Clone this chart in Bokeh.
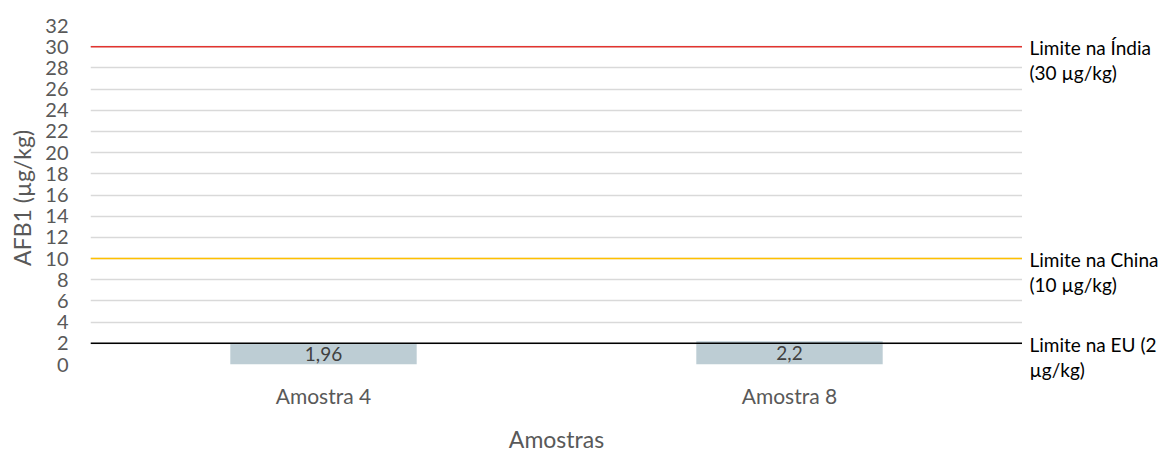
from bokeh.plotting import figure
from bokeh.layouts import row
from bokeh.models import ColumnDataSource, FixedTicker, Span, Range1d
from bokeh.core.properties import value
from bokeh.embed import file_html
from bokeh.resources import INLINE

# Data
samples = ["Amostra 4", "Amostra 8"]
afb1 = [1.96, 2.2]
afb1_text = ["1,96", "2,2"]
limit_values = [30, 10, 2]
limit_colors = ["#E2342F", "#FFC000", "#000000"]
limit_line1 = ["Limite na Índia", "Limite na China", "Limite na EU (2"]
limit_line2 = ["(30 µg/kg)", "(10 µg/kg)", "µg/kg)"]
y_ticks = list(range(0, 33, 2))

FONT = "Lato"
GREY = "#595959"
Y_MAX = 32
TOP, BOTTOM = 25, 91
HEIGHT = 455
FRAME_H = HEIGHT - TOP - BOTTOM

p = figure(
    x_range=samples,
    y_range=Range1d(0, Y_MAX),
    width=1022,
    height=HEIGHT,
    output_backend="svg",
    toolbar_location=None,
    min_border_left=90,
    min_border_right=0,
    min_border_top=TOP,
    min_border_bottom=BOTTOM,
)
p.outline_line_color = None

src = ColumnDataSource(dict(x=samples, top=afb1, mid=[v / 2 for v in afb1], txt=afb1_text))
p.vbar(x="x", top="top", width=0.4, source=src, fill_color="#BDCDD4", line_color=None)

# Reference limits
for v, c in zip(limit_values, limit_colors):
    p.add_layout(Span(location=v, dimension="width", line_color=c, line_width=1.5, level="overlay"))

p.text(x="x", y="mid", text="txt", source=src, text_align="center", text_baseline="middle",
       text_font=value(FONT), text_font_size="19px", text_color="#404040")

# Axes
for ax in (p.xaxis, p.yaxis):
    ax.axis_line_color = None
    ax.major_tick_line_color = None
    ax.minor_tick_line_color = None
    ax.major_tick_out = 0
    ax.major_tick_in = 0
    ax.minor_tick_out = 0
    ax.minor_tick_in = 0
    ax.major_label_text_font = FONT
    ax.major_label_text_color = GREY
    ax.axis_label_text_font = FONT
    ax.axis_label_text_font_style = "normal"
    ax.axis_label_text_color = GREY

p.yaxis.ticker = FixedTicker(ticks=y_ticks)
p.yaxis.major_label_text_font_size = "20px"
p.yaxis.major_label_standoff = 22
p.yaxis.axis_label = "AFB1  (µg/kg)"
p.yaxis.axis_label_text_font_size = "23px"
p.yaxis.axis_label_standoff = 6

p.xaxis.major_label_text_font_size = "21px"
p.xaxis.major_label_standoff = 18
p.xaxis.axis_label = "Amostras"
p.xaxis.axis_label_text_font_size = "23px"
p.xaxis.axis_label_standoff = 14

p.xgrid.grid_line_color = None
p.ygrid.grid_line_color = "#D9D9D9"
p.ygrid.grid_line_width = 1.5

# Side panel holding the limit annotations; its y scale matches the main frame
units_per_px = Y_MAX / FRAME_H
side = figure(
    width=143,
    height=HEIGHT,
    output_backend="svg",
    toolbar_location=None,
    x_range=Range1d(0, 143),
    y_range=Range1d(-BOTTOM * units_per_px, Y_MAX + TOP * units_per_px),
    x_axis_type=None,
    y_axis_type=None,
    min_border=0,
)
side.frame_align = False
side.outline_line_color = None
side.grid.visible = False

lab = ColumnDataSource(dict(y=limit_values, l1=limit_line1, l2=limit_line2))
side.text(x=7, y="y", text="l1", source=lab, text_align="left", text_baseline="middle",
          text_font=value(FONT), text_font_size="19px", text_color="#000000", y_offset=1)
side.text(x=7, y="y", text="l2", source=lab, text_align="left", text_baseline="middle",
          text_font=value(FONT), text_font_size="19px", text_color="#000000", y_offset=26)

layout = row(p, side, spacing=0)
open("out.html", "w").write(file_html(layout, INLINE))
